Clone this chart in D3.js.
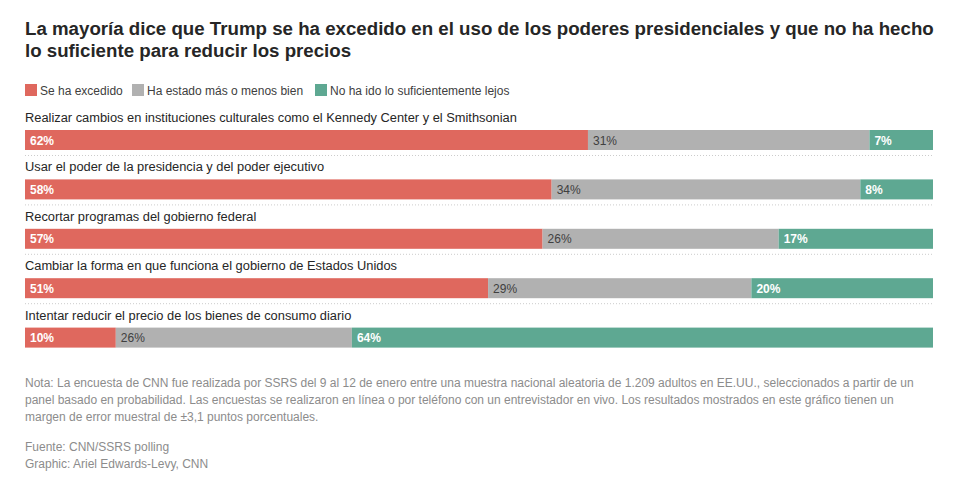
<!DOCTYPE html>
<html><head><meta charset="utf-8">
<script src="https://cdn.jsdelivr.net/npm/d3@7"></script>
<style>
body{margin:0;background:#fff;font-family:"Liberation Sans",Arial,Helvetica,sans-serif;}
</style></head>
<body><svg id="c" width="963" height="492"></svg>
<script>
const categories = [
  "Realizar cambios en instituciones culturales como el Kennedy Center y el Smithsonian",
  "Usar el poder de la presidencia y del poder ejecutivo",
  "Recortar programas del gobierno federal",
  "Cambiar la forma en que funciona el gobierno de Estados Unidos",
  "Intentar reducir el precio de los bienes de consumo diario"
];
const seriesNames = ["Se ha excedido","Ha estado más o menos bien","No ha ido lo suficientemente lejos"];
const excedido = [62,58,57,51,10];
const bien = [31,34,26,29,26];
const lejos = [7,8,17,20,64];
const colors = ["#df685e","#b1b1b1","#5ea892"];
const labelColors = ["#ffffff","#404040","#ffffff"];
const labelWeights = ["bold","normal","bold"];

const svg = d3.select("#c");
const left = 25, right = 933;
const x = d3.scaleLinear().domain([0,100]).range([left,right]);
const y = d3.scaleBand().domain(categories).range([130,377]).paddingInner(0).paddingOuter(0);
const barH = 20;

// title
const title = svg.append("text").attr("x",25).attr("y",35).attr("fill","#262626")
  .style("font-size","18.7px").style("font-weight","bold");
title.append("tspan").attr("x",25).attr("y",35).text("La mayoría dice que Trump se ha excedido en el uso de los poderes presidenciales y que no ha hecho");
title.append("tspan").attr("x",25).attr("y",57).text("lo suficiente para reducir los precios");

// legend
const legX = [25,132,315];
seriesNames.forEach((n,i)=>{
  svg.append("rect").attr("x",legX[i]).attr("y",84).attr("width",12).attr("height",12).attr("fill",colors[i]);
  svg.append("text").attr("x",legX[i]+15).attr("y",94.5).attr("fill","#404040")
    .style("font-size","12px").text(n);
});

const data = categories.map((c,i)=>({c, vals:[excedido[i],bien[i],lejos[i]]}));
data.forEach((d,i)=>{
  const top = y(d.c);
  svg.append("text").attr("x",left).attr("y",top-8).attr("fill","#262626")
    .style("font-size","12.85px").text(d.c);
  let cum = 0;
  d.vals.forEach((v,j)=>{
    svg.append("rect").attr("x",x(cum)).attr("y",top).attr("width",x(cum+v)-x(cum)).attr("height",barH).attr("fill",colors[j]);
    svg.append("text").attr("x",x(cum)+5).attr("y",top+14.5).attr("fill",labelColors[j])
      .style("font-size","12px").style("font-weight",labelWeights[j]).text(v+"%");
    cum += v;
  });
  if(i<data.length-1){
    svg.append("line").attr("x1",left).attr("x2",right).attr("y1",top+barH+5.5).attr("y2",top+barH+5.5)
      .attr("stroke","#cccccc").attr("stroke-width",1).attr("stroke-dasharray","1,2");
  }
});

// notes
const notes = [
  "Nota: La encuesta de CNN fue realizada por SSRS del 9 al 12 de enero entre una muestra nacional aleatoria de 1.209 adultos en EE.UU., seleccionados a partir de un",
  "panel basado en probabilidad. Las encuestas se realizaron en línea o por teléfono con un entrevistador en vivo. Los resultados mostrados en este gráfico tienen un",
  "margen de error muestral de ±3,1 puntos porcentuales."
];
notes.forEach((t,i)=>{
  svg.append("text").attr("x",25).attr("y",387+i*17).attr("fill","#8c8c8c").style("font-size","12px").text(t);
});
svg.append("text").attr("x",25).attr("y",451).attr("fill","#8c8c8c").style("font-size","12px").text("Fuente: CNN/SSRS polling");
svg.append("text").attr("x",25).attr("y",468).attr("fill","#8c8c8c").style("font-size","12px").text("Graphic: Ariel Edwards-Levy, CNN");
</script></body></html>
